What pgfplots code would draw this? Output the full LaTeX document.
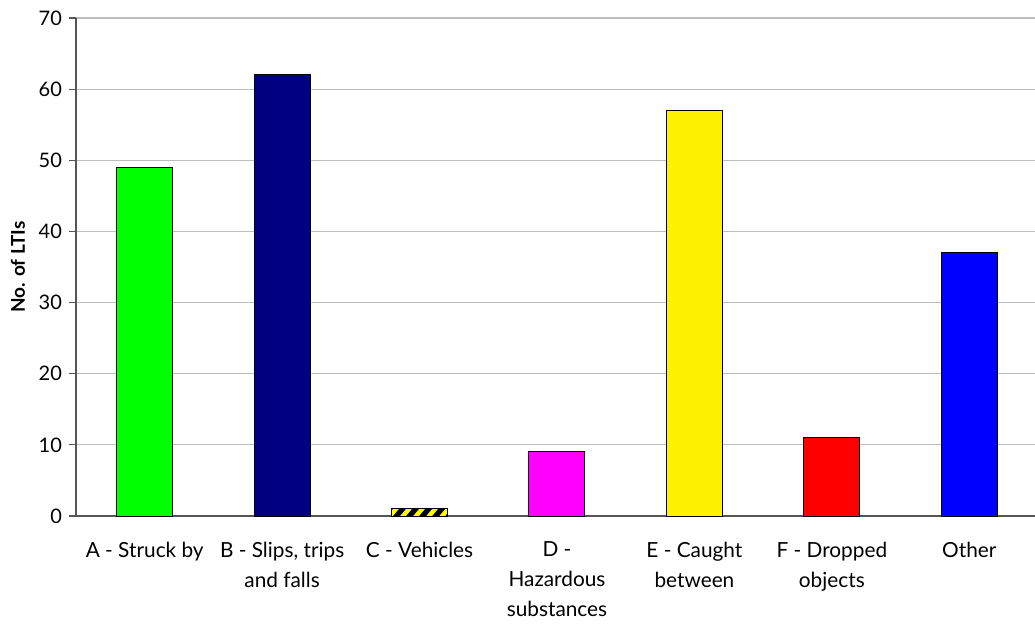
\documentclass[border=0pt]{standalone}
\usepackage{fontspec}
\setmainfont{Lato}
\usepackage{pgfplots}
\pgfplotsset{compat=1.18}
\usetikzlibrary{patterns.meta}
\definecolor{navyb}{HTML}{000080}
\definecolor{gridc}{HTML}{BDBDBD}
\definecolor{axc}{HTML}{555555}
\begin{document}
\begin{tikzpicture}
\begin{axis}[
  scale only axis,
  width=481pt, height=249pt,
  xmin=-0.5, xmax=6.5,
  ymin=0, ymax=70,
  ytick={0,10,...,70},
  axis lines*=left,
  axis line style={axc, line width=0.8pt},
  ymajorgrids,
  grid style={gridc, line width=0.6pt},
  tick align=outside,
  major tick length=3.5pt,
  minor tick length=3.5pt,
  tick style={axc, line width=0.6pt},
  xtick={0,...,6},
  xtick style={draw=none},
  minor xtick={-0.5,0.5,...,6.5},
  minor x tick style={axc, line width=0.6pt},
  xticklabels={{A - Struck by},{B - Slips, trips\\and falls},{C - Vehicles},{D -\\Hazardous\\substances},{E - Caught\\between},{F - Dropped\\objects},{Other}},
  xticklabel style={align=center, font=\fontsize{10.4}{15}\selectfont, yshift=-6pt},
  yticklabel style={font=\fontsize{10}{11}\selectfont},
  /pgf/number format/assume math mode=true,
  ylabel={\textbf{No. of LTIs}},
  ylabel style={font=\fontsize{9.5}{11}\selectfont, at={(-29pt,0.5)}, anchor=center, rotate=0},
  ybar, bar width=28pt,
  clip=false,
]
\addplot[bar shift=0pt, fill={rgb,255:red,0;green,255;blue,0}, draw=black, line width=0.5pt] coordinates {(0,49)};
\addplot[bar shift=0pt, fill=navyb, draw=black, line width=0.5pt] coordinates {(1,62)};
\addplot[bar shift=0pt, fill=black, draw=black, line width=0.5pt, postaction={pattern={Lines[angle=50, distance=5pt, line width=2.2pt]}, pattern color=yellow}] coordinates {(2,1)};
\addplot[bar shift=0pt, fill={rgb,255:red,255;green,0;blue,255}, draw=black, line width=0.5pt] coordinates {(3,9)};
\addplot[bar shift=0pt, fill=yellow, draw=black, line width=0.5pt] coordinates {(4,57)};
\addplot[bar shift=0pt, fill=red, draw=black, line width=0.5pt] coordinates {(5,11)};
\addplot[bar shift=0pt, fill=blue, draw=black, line width=0.5pt] coordinates {(6,37)};
\end{axis}
\pgfresetboundingbox
\path (-38pt,-53.5pt) rectangle (479.5pt,258pt);
\end{tikzpicture}
\end{document}
